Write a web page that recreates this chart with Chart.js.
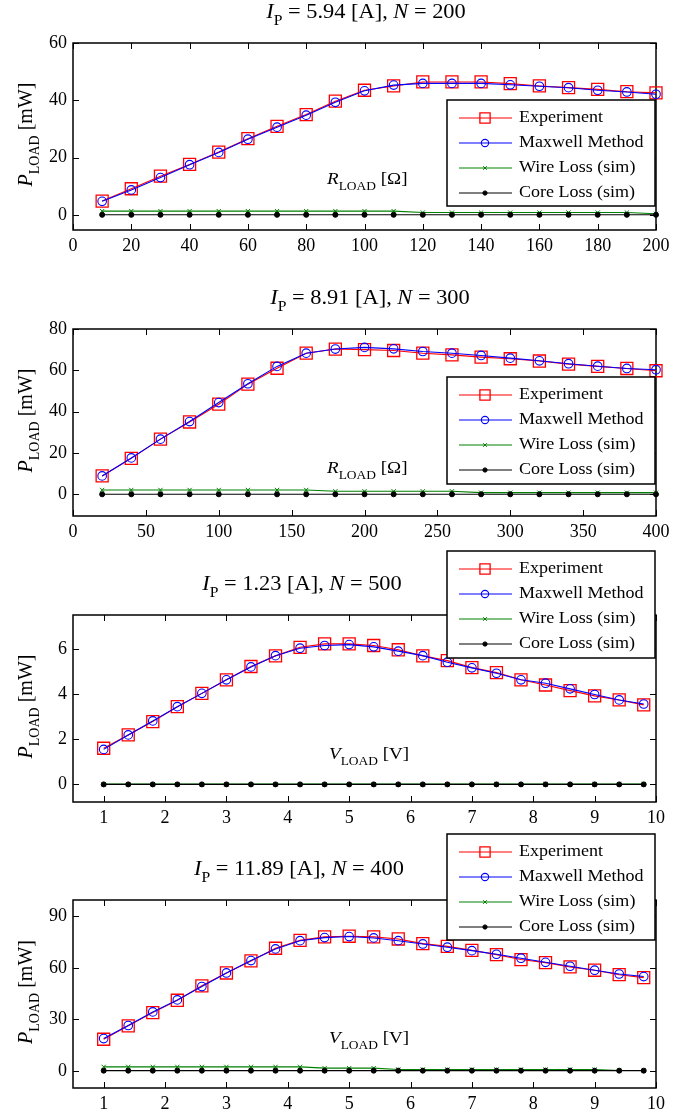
<!DOCTYPE html>
<html>
<head>
<meta charset="utf-8">
<script src="https://cdn.jsdelivr.net/npm/chart.js@4/dist/chart.umd.min.js"></script>
<style>
  body { margin: 0; background: #fff; }
  #page { position: relative; width: 698px; height: 1116px; overflow: hidden; background: #fff; }
  canvas { position: absolute; left: 0; }
</style>
</head>
<body>
<div id="page">
  <canvas id="c1" width="698" height="262" style="top:0px"></canvas>
  <canvas id="c2" width="698" height="283" style="top:262px"></canvas>
  <canvas id="c3" width="698" height="281" style="top:545px"></canvas>
  <canvas id="c4" width="698" height="290" style="top:826px"></canvas>
</div>
<script>
// ---- data: plot 1 (I_P = 5.94 A, N = 200), x = R_LOAD [Ohm]
const rLoad1 = [10, 20, 30, 40, 50, 60, 70, 80, 90, 100, 110, 120, 130, 140, 150, 160, 170, 180, 190, 200];
const experiment1 = [4.8, 9.1, 13.5, 17.6, 21.9, 26.6, 30.9, 35.0, 39.7, 43.5, 45.0, 46.4, 46.4, 46.4, 45.8, 45.0, 44.4, 43.8, 43.0, 42.6];
const maxwell1 = [4.7, 8.7, 13.0, 17.5, 21.8, 26.4, 30.6, 34.8, 39.3, 43.3, 45.3, 45.9, 45.9, 45.9, 45.4, 44.9, 44.4, 43.5, 42.9, 42.1];
const wireLoss1 = [1.3, 1.3, 1.3, 1.3, 1.3, 1.3, 1.3, 1.3, 1.3, 1.3, 1.3, 0.8, 0.8, 0.8, 0.8, 0.8, 0.8, 0.8, 0.8, 0.35];
const coreLoss1 = [0, 0, 0, 0, 0, 0, 0, 0, 0, 0, 0, 0, 0, 0, 0, 0, 0, 0, 0, 0];
const xTicks1 = [0, 20, 40, 60, 80, 100, 120, 140, 160, 180, 200];
const yTicks1 = [0, 20, 40, 60];

// ---- data: plot 2 (I_P = 8.91 A, N = 300), x = R_LOAD [Ohm]
const rLoad2 = [20, 40, 60, 80, 100, 120, 140, 160, 180, 200, 220, 240, 260, 280, 300, 320, 340, 360, 380, 400];
const experiment2 = [8.9, 17.4, 26.7, 35.0, 43.6, 53.3, 61.0, 68.3, 70.3, 70.0, 69.6, 68.3, 67.5, 66.4, 65.6, 64.5, 63.0, 61.9, 60.9, 59.8];
const maxwell2 = [8.9, 17.6, 26.7, 35.2, 44.4, 53.5, 61.9, 68.3, 70.3, 71.1, 70.4, 69.1, 68.3, 67.2, 65.9, 64.6, 63.2, 62.0, 60.9, 60.3];
const wireLoss2 = [2.1, 2.1, 2.1, 2.1, 2.1, 2.1, 2.1, 2.1, 1.45, 1.45, 1.45, 1.45, 1.45, 0.8, 0.8, 0.8, 0.8, 0.8, 0.8, 0.8];
const coreLoss2 = [0, 0, 0, 0, 0, 0, 0, 0, 0, 0, 0, 0, 0, 0, 0, 0, 0, 0, 0, 0];
const xTicks2 = [0, 50, 100, 150, 200, 250, 300, 350, 400];
const yTicks2 = [0, 20, 40, 60, 80];

// ---- data: plots 3 and 4, x = V_LOAD [V]
const vLoad = [1, 1.4, 1.8, 2.2, 2.6, 3, 3.4, 3.8, 4.2, 4.6, 5, 5.4, 5.8, 6.2, 6.6, 7, 7.4, 7.8, 8.2, 8.6, 9, 9.4, 9.8];
const xTicksV = [1, 2, 3, 4, 5, 6, 7, 8, 9, 10];

// plot 3 (I_P = 1.23 A, N = 500)
const experiment3 = [1.60, 2.19, 2.78, 3.44, 4.03, 4.63, 5.22, 5.69, 6.07, 6.22, 6.22, 6.15, 5.96, 5.69, 5.48, 5.17, 4.95, 4.63, 4.40, 4.15, 3.92, 3.74, 3.52];
const maxwell3 = [1.55, 2.19, 2.81, 3.44, 4.03, 4.63, 5.20, 5.70, 6.03, 6.15, 6.19, 6.09, 5.90, 5.70, 5.41, 5.16, 4.92, 4.63, 4.48, 4.23, 3.98, 3.74, 3.56];
const wireLoss3 = [0.01, 0.01, 0.01, 0.01, 0.01, 0.01, 0.01, 0.01, 0.01, 0.01, 0.01, 0.01, 0.01, 0.01, 0.01, 0.01, 0.01, 0.01, 0.01, 0.01, 0.01, 0.01, 0.01];
const coreLoss3 = [0, 0, 0, 0, 0, 0, 0, 0, 0, 0, 0, 0, 0, 0, 0, 0, 0, 0, 0, 0, 0, 0, 0];
const yTicks3 = [0, 2, 4, 6];

// plot 4 (I_P = 11.89 A, N = 400)
const experiment4 = [18.4, 26.2, 33.9, 41.1, 49.5, 57.0, 64.0, 71.4, 76.0, 78.0, 78.4, 78.0, 76.8, 74.1, 72.5, 70.2, 67.7, 64.8, 63.0, 60.5, 58.6, 56.0, 54.3];
const maxwell4 = [18.8, 26.4, 34.3, 41.3, 49.1, 57.0, 64.2, 71.0, 75.8, 77.6, 78.2, 77.4, 75.8, 73.9, 72.0, 70.0, 67.9, 65.6, 63.2, 60.9, 58.6, 56.4, 54.9];
const wireLoss4 = [2.3, 2.3, 2.3, 2.3, 2.3, 2.3, 2.3, 2.3, 2.3, 1.55, 1.55, 1.55, 0.8, 0.8, 0.8, 0.8, 0.8, 0.8, 0.8, 0.8, 0.8, 0.2, 0.2];
const coreLoss4 = [0.1, 0.1, 0.1, 0.1, 0.1, 0.1, 0.1, 0.1, 0.1, 0.1, 0.1, 0.1, 0.1, 0.1, 0.1, 0.1, 0.1, 0.1, 0.1, 0.1, 0.1, 0.1, 0.1];
const yTicks4 = [0, 30, 60, 90];

const seriesNames = ['Experiment', 'Maxwell Method', 'Wire Loss (sim)', 'Core Loss (sim)'];

const SERIF = '"Liberation Serif", "Times New Roman", serif';

// draw text made of pieces: [text, style] with style '' | 'i' (italic) | 's' (subscript)
function drawRich(ctx, parts, x, y, size, stretch, align) {
  const subSize = Math.round(size * 0.72);
  const fontFor = st => (st === 'i' ? 'italic ' : '') + (st === 's' ? subSize : size) + 'px ' + SERIF;
  let total = 0;
  const widths = parts.map(([t, st]) => { ctx.font = fontFor(st); const w = ctx.measureText(t).width; total += w; return w; });
  const x0 = align === 'center' ? x - total * stretch / 2 : x;
  ctx.save();
  ctx.translate(x0, y);
  ctx.scale(stretch, 1);
  ctx.fillStyle = '#000';
  ctx.textBaseline = 'alphabetic';
  ctx.textAlign = 'left';
  let cx = 0;
  parts.forEach(([t, st], i) => {
    ctx.font = fontFor(st);
    ctx.fillText(t, cx, st === 's' ? size * 0.33 : 0);
    cx += widths[i];
  });
  ctx.restore();
}

// MATLAB-like axes box, inward ticks, labels, title and legend
const matlabAxes = {
  id: 'matlabAxes',
  beforeDatasetsDraw(chart) {
    const { ctx, chartArea: a, scales } = chart;
    const tl = 6;
    ctx.save();
    ctx.strokeStyle = '#000';
    ctx.lineWidth = 1;
    ctx.beginPath();
    scales.x.ticks.forEach(t => {
      const px = Math.round(scales.x.getPixelForValue(t.value)) + 0.5;
      ctx.moveTo(px, a.bottom); ctx.lineTo(px, a.bottom - tl);
      ctx.moveTo(px, a.top); ctx.lineTo(px, a.top + tl);
    });
    scales.y.ticks.forEach(t => {
      const py = Math.round(scales.y.getPixelForValue(t.value)) + 0.5;
      ctx.moveTo(a.left, py); ctx.lineTo(a.left + tl, py);
      ctx.moveTo(a.right, py); ctx.lineTo(a.right - tl, py);
    });
    ctx.stroke();
    ctx.lineWidth = 1.5;
    ctx.strokeRect(a.left, a.top, a.right - a.left, a.bottom - a.top);
    ctx.restore();
  },
  afterDatasetsDraw(chart, args, o) {
    const { ctx, chartArea: a } = chart;
    // title
    drawRich(ctx, o.title, o.titleX, a.top - 25, 20, 1.12, 'center');
    // x label inside the axes
    drawRich(ctx, o.xLabel, o.xLabelX, o.xLabelY, 17, 1.12, 'left');
    // y label, rotated
    ctx.save();
    ctx.translate(32, (a.top + a.bottom) / 2 - 2);
    ctx.rotate(-Math.PI / 2);
    drawRich(ctx, [['P', 'i'], ['LOAD', 's'], [' [mW]', '']], 0, 0, 20, 1.0, 'center');
    ctx.restore();
    // legend
    const L = o.legend;
    ctx.save();
    ctx.fillStyle = '#fff';
    ctx.fillRect(L.left, L.top, L.right - L.left, L.bottom - L.top);
    ctx.strokeStyle = '#000';
    ctx.lineWidth = 1.5;
    ctx.strokeRect(L.left, L.top, L.right - L.left, L.bottom - L.top);
    chart.data.datasets.forEach((ds, i) => {
      const y = L.top + 18 + 25 * i;
      ctx.strokeStyle = ds.borderColor;
      ctx.lineWidth = 1;
      ctx.beginPath();
      ctx.moveTo(L.left + 12, y); ctx.lineTo(L.left + 65, y);
      ctx.stroke();
      ctx.fillStyle = ds.pointBackgroundColor;
      ctx.strokeStyle = ds.borderColor;
      ctx.lineWidth = ds.pointBorderWidth;
      Chart.helpers.drawPoint(ctx, { pointStyle: ds.pointStyle, radius: ds.pointRadius * 0.85, borderWidth: ds.pointBorderWidth, rotation: 0 }, L.left + 38, y);
      ctx.fillStyle = '#000';
      ctx.font = '17px ' + SERIF;
      ctx.textBaseline = 'middle';
      ctx.textAlign = 'left';
      ctx.save();
      ctx.translate(L.left + 72, y);
      ctx.scale(1.06, 1);
      ctx.fillText(ds.label, 0, 0);
      ctx.restore();
    });
    ctx.restore();
  }
};

function pts(xs, ys) {
  return xs.map((x, i) => ({ x: x, y: ys[i] }));
}

function makeChart(id, c) {
  const canvas = document.getElementById(id);
  const H = canvas.height;
  const styles = [
    { color: '#ff0000', style: 'rect', r: 8.5, bw: 1.3, fill: 'rgba(0,0,0,0)', order: 4 },
    { color: '#0000ff', style: 'circle', r: 4.3, bw: 1.1, fill: 'rgba(0,0,0,0)', order: 3 },
    { color: '#008000', style: 'crossRot', r: 3, bw: 1, fill: 'rgba(0,0,0,0)', order: 2 },
    { color: '#000000', style: 'circle', r: 2.5, bw: 1, fill: '#000000', order: 1 }
  ];
  const datasets = c.series.map((ys, i) => ({
    label: seriesNames[i],
    data: pts(c.xs, ys),
    borderColor: styles[i].color,
    borderWidth: 1.1,
    pointStyle: styles[i].style,
    pointRadius: styles[i].r,
    pointBorderWidth: styles[i].bw,
    pointBorderColor: styles[i].color,
    pointBackgroundColor: styles[i].fill,
    backgroundColor: styles[i].fill,
    order: styles[i].order,
    tension: 0,
    clip: false
  }));
  const tickFont = { family: SERIF, size: 18 };
  return new Chart(canvas, {
    type: 'line',
    data: { datasets: datasets },
    options: {
      responsive: false,
      animation: false,
      devicePixelRatio: 1,
      layout: { autoPadding: false, padding: { top: c.plotTop, right: 42, left: 0, bottom: 0 } },
      plugins: {
        legend: { display: false },
        title: { display: false },
        tooltip: { enabled: false },
        matlabAxes: c.decor
      },
      scales: {
        x: {
          type: 'linear', min: c.xMin, max: c.xMax,
          grid: { display: false, drawTicks: false },
          border: { display: false },
          ticks: { color: '#000', font: tickFont, padding: 5, maxRotation: 0, autoSkip: false },
          afterBuildTicks: s => { s.ticks = c.xTicks.map(v => ({ value: v })); },
          afterFit: s => { s.height = H - c.plotBottom; }
        },
        y: {
          type: 'linear', min: c.yMin, max: c.yMax,
          grid: { display: false, drawTicks: false },
          border: { display: false },
          ticks: { color: '#000', font: tickFont, padding: 6 },
          afterBuildTicks: s => { s.ticks = c.yTicks.map(v => ({ value: v })); },
          afterFit: s => { s.width = 73; }
        }
      }
    },
    plugins: [matlabAxes]
  });
}

const R_LABEL = [['R', 'i'], ['LOAD', 's'], [' [\u03A9]', '']];
const V_LABEL = [['V', 'i'], ['LOAD', 's'], [' [V]', '']];

makeChart('c1', {
  xs: rLoad1, series: [experiment1, maxwell1, wireLoss1, coreLoss1],
  xMin: 0, xMax: 200, yMin: -5.3, yMax: 60, xTicks: xTicks1, yTicks: yTicks1,
  plotTop: 43, plotBottom: 230,
  decor: {
    title: [['I', 'i'], ['P', 's'], [' = 5.94 [A], ', ''], ['N', 'i'], [' = 200', '']], titleX: 366,
    xLabel: R_LABEL, xLabelX: 327, xLabelY: 184,
    legend: { left: 447, right: 655, top: 100, bottom: 206 }
  }
});

makeChart('c2', {
  xs: rLoad2, series: [experiment2, maxwell2, wireLoss2, coreLoss2],
  xMin: 0, xMax: 400, yMin: -10.5, yMax: 80, xTicks: xTicks2, yTicks: yTicks2,
  plotTop: 329 - 262, plotBottom: 516 - 262,
  decor: {
    title: [['I', 'i'], ['P', 's'], [' = 8.91 [A], ', ''], ['N', 'i'], [' = 300', '']], titleX: 370,
    xLabel: R_LABEL, xLabelX: 327, xLabelY: 473 - 262,
    legend: { left: 447, right: 655, top: 377 - 262, bottom: 484 - 262 }
  }
});

makeChart('c3', {
  xs: vLoad, series: [experiment3, maxwell3, wireLoss3, coreLoss3],
  xMin: 0.5, xMax: 10, yMin: -0.78, yMax: 7.5, xTicks: xTicksV, yTicks: yTicks3,
  plotTop: 615 - 545, plotBottom: 802 - 545,
  decor: {
    title: [['I', 'i'], ['P', 's'], [' = 1.23 [A], ', ''], ['N', 'i'], [' = 500', '']], titleX: 302,
    xLabel: V_LABEL, xLabelX: 329, xLabelY: 759 - 545,
    legend: { left: 447, right: 655, top: 551 - 545, bottom: 658 - 545 }
  }
});

makeChart('c4', {
  xs: vLoad, series: [experiment4, maxwell4, wireLoss4, coreLoss4],
  xMin: 0.5, xMax: 10, yMin: -10, yMax: 99.5, xTicks: xTicksV, yTicks: yTicks4,
  plotTop: 900 - 826, plotBottom: 1088 - 826,
  decor: {
    title: [['I', 'i'], ['P', 's'], [' = 11.89 [A], ', ''], ['N', 'i'], [' = 400', '']], titleX: 299,
    xLabel: V_LABEL, xLabelX: 329, xLabelY: 1043 - 826,
    legend: { left: 447, right: 655, top: 834 - 826, bottom: 940 - 826 }
  }
});
</script>
</body>
</html>
